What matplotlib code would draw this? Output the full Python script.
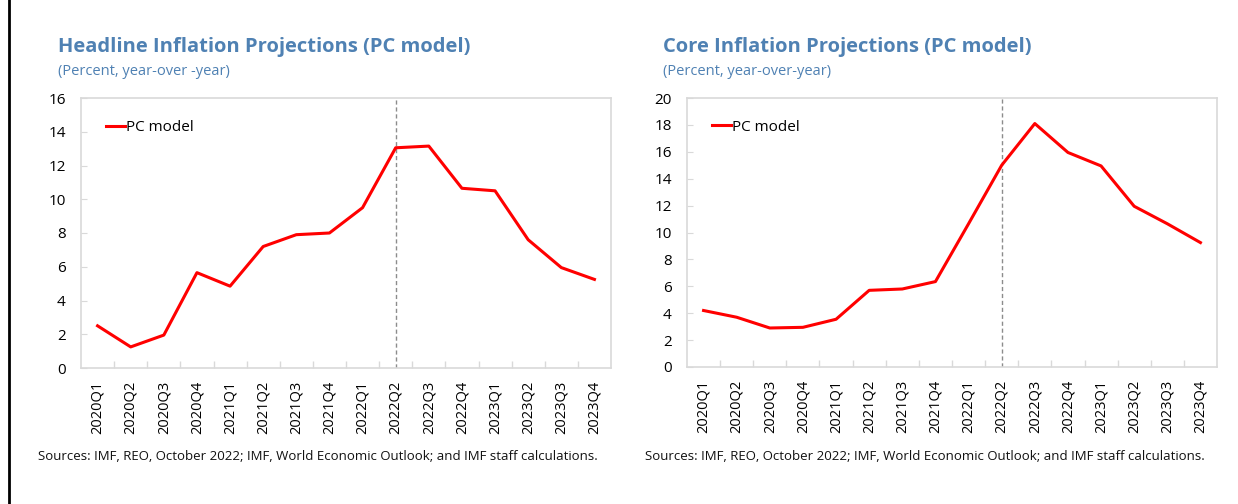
import matplotlib
matplotlib.use("Agg")
import matplotlib.pyplot as plt
from matplotlib.lines import Line2D
import numpy as np

# ── Data ─────────────────────────────────────────────────────
quarters = ["2020Q1", "2020Q2", "2020Q3", "2020Q4",
            "2021Q1", "2021Q2", "2021Q3", "2021Q4",
            "2022Q1", "2022Q2", "2022Q3", "2022Q4",
            "2023Q1", "2023Q2", "2023Q3", "2023Q4"]
headline_pc = [2.5, 1.25, 1.95, 5.65, 4.85, 7.2, 7.9, 8.0,
               9.5, 13.05, 13.15, 10.65, 10.5, 7.6, 5.95, 5.25]
core_pc = [4.2, 3.7, 2.9, 2.95, 3.55, 5.7, 5.8, 6.35,
           10.65, 15.0, 18.1, 15.95, 14.95, 11.95, 10.65, 9.25]
proj_start = "2022Q2"
source_txt = "Sources: IMF, REO, October 2022; IMF, World Economic Outlook; and IMF staff calculations."

TITLE_BLUE = "#4f81b3"
FRAME = "#d9d9d9"
plt.rcParams["font.family"] = ["Open Sans", "DejaVu Sans"]

fig = plt.figure(figsize=(12.38, 5.04), dpi=100)
W, H = 1238, 504


def px_axes(x0, y0, x1, y1):
    return fig.add_axes([x0 / W, 1 - y1 / H, (x1 - x0) / W, (y1 - y0) / H])


def panel(ax, values, ymax, title, subtitle, tx, sx):
    x = np.arange(len(quarters))
    ax.plot(x, values, color="#ff0000", lw=2.2, label="PC model")
    ax.axvline(quarters.index(proj_start), color="#8c8c8c", lw=1.0,
               ls=(0, (3, 2)), zorder=1)
    ax.set_xlim(-0.5, len(quarters) - 0.5)
    ax.set_ylim(0, ymax)
    ax.set_yticks(np.arange(0, ymax + 1, 2))
    ax.set_xticks(x)
    ax.set_xticklabels(quarters, rotation=90, fontsize=10.5)
    ax.set_xticks(np.arange(0.5, len(quarters) - 0.5), minor=True)
    ax.tick_params(axis="x", which="major", length=0, pad=9)
    ax.tick_params(axis="x", which="minor", direction="in", length=5,
                   color=FRAME, width=1)
    ax.tick_params(axis="y", direction="in", length=4, color=FRAME,
                   labelsize=11, pad=11)
    for s in ax.spines.values():
        s.set_color(FRAME)
        s.set_linewidth(1.2)
    ax.legend(loc="upper left", frameon=False, fontsize=11,
              handlelength=1.2, handletextpad=0.1,
              bbox_to_anchor=(0.022, 0.97))
    fig.text(tx / W, 1 - 47 / H, title, color=TITLE_BLUE, fontsize=14.5,
             fontweight="bold", va="center", ha="left")
    fig.text(tx / W, 1 - 72 / H, subtitle, color=TITLE_BLUE, fontsize=10.5,
             va="center", ha="left")
    fig.text(sx / W, 1 - 456 / H, source_txt, fontsize=9.5, va="center",
             ha="left", color="#111111")


ax1 = px_axes(81, 98, 611, 368)
panel(ax1, headline_pc, 16, "Headline Inflation Projections (PC model)",
      "(Percent, year-over -year)", 58, 38)

ax2 = px_axes(687, 98, 1217, 367)
panel(ax2, core_pc, 20, "Core Inflation Projections (PC model)",
      "(Percent, year-over-year)", 663, 645)

fig.add_artist(Line2D([9 / W, 9 / W], [0, 1], color="black", lw=2,
                      transform=fig.transFigure))

fig.savefig("out.png", dpi=100)
